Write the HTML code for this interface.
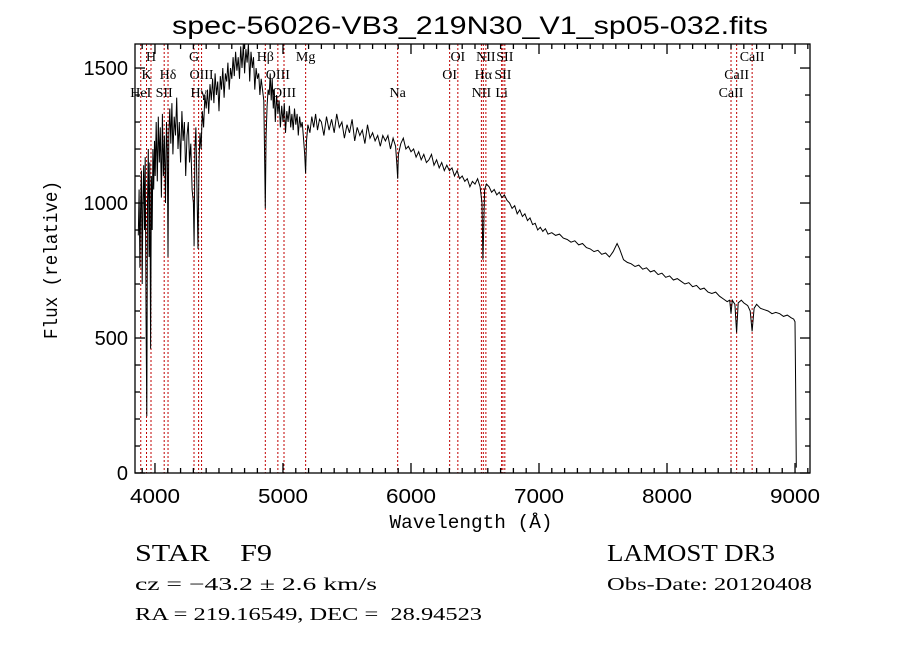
<!DOCTYPE html>
<html><head><meta charset="utf-8">
<style>
html,body{margin:0;padding:0;background:#fff;}
svg{display:block;}
text{white-space:pre;}
</style></head>
<body>
<svg id="chart" width="900" height="649" xmlns="http://www.w3.org/2000/svg" xml:space="preserve">
<rect x="0" y="0" width="900" height="649" fill="#fff"/>
<text x="470" y="34" text-anchor="middle" font-family="Liberation Sans, sans-serif" font-size="25" textLength="596" lengthAdjust="spacingAndGlyphs">spec-56026-VB3_219N30_V1_sp05-032.fits</text>
<g id="lines"></g>
<g id="labels" font-family="Liberation Serif, serif" font-size="14"></g>
<path id="spec" fill="none" stroke="#000" stroke-width="1"/>
<g id="axes" stroke="#000" stroke-width="1.3" fill="none"></g>
<g id="ticklabels" font-family="Liberation Sans, sans-serif" font-size="20"></g>
<text x="471" y="528" text-anchor="middle" font-family="Liberation Mono, monospace" font-size="19" textLength="163" lengthAdjust="spacingAndGlyphs">Wavelength (Å)</text>
<text transform="translate(57,260) rotate(-90)" text-anchor="middle" font-family="Liberation Mono, monospace" font-size="19" textLength="158" lengthAdjust="spacingAndGlyphs">Flux (relative)</text>
<text x="135" y="561" font-family="Liberation Serif, serif" font-size="24" textLength="137" lengthAdjust="spacingAndGlyphs">STAR    F9</text>
<text x="607" y="561" font-family="Liberation Serif, serif" font-size="24" textLength="168" lengthAdjust="spacingAndGlyphs">LAMOST DR3</text>
<text x="135" y="590" font-family="Liberation Serif, serif" font-size="18" textLength="242" lengthAdjust="spacingAndGlyphs">cz = −43.2 ± 2.6 km/s</text>
<text x="607" y="590" font-family="Liberation Serif, serif" font-size="18" textLength="205" lengthAdjust="spacingAndGlyphs">Obs-Date: 20120408</text>
<text x="135" y="620" font-family="Liberation Serif, serif" font-size="18" textLength="347" lengthAdjust="spacingAndGlyphs">RA = 219.16549, DEC =  28.94523</text>
</svg>
<script>
const wavelengths = [3870,3876,3882,3888,3894,3900,3906,3912,3918,3924,3930,3936,3942,3948,3954,3960,3966,3972,3978,3984,3990,3996,4002,4010,4018,4026,4034,4042,4050,4058,4066,4074,4082,4090,4096,4102,4108,4116,4124,4132,4140,4150,4160,4170,4180,4190,4200,4210,4220,4230,4240,4250,4260,4270,4280,4290,4300,4306,4312,4320,4330,4336,4344,4352,4360,4370,4380,4390,4400,4410,4420,4430,4440,4450,4460,4470,4480,4490,4500,4510,4520,4530,4540,4550,4560,4570,4580,4590,4600,4610,4620,4630,4640,4650,4660,4670,4680,4690,4700,4710,4720,4730,4740,4750,4760,4770,4780,4790,4800,4810,4820,4830,4840,4850,4856,4862,4868,4876,4884,4892,4900,4908,4916,4924,4932,4940,4950,4960,4970,4980,4990,5000,5010,5020,5030,5040,5050,5060,5070,5080,5090,5100,5110,5120,5130,5140,5150,5160,5170,5177,5184,5195,5210,5225,5240,5255,5270,5285,5300,5320,5340,5360,5380,5400,5420,5440,5460,5480,5500,5520,5540,5560,5580,5600,5620,5640,5660,5680,5700,5720,5740,5760,5780,5800,5820,5840,5860,5880,5890,5896,5902,5920,5940,5960,5980,6000,6020,6040,6060,6080,6100,6120,6140,6160,6180,6200,6220,6240,6260,6280,6300,6320,6340,6360,6380,6400,6420,6440,6460,6480,6500,6520,6540,6555,6562,6568,6575,6590,6610,6630,6650,6670,6690,6710,6730,6750,6770,6790,6810,6830,6850,6870,6890,6910,6930,6950,6970,6990,7010,7030,7050,7070,7100,7130,7160,7190,7220,7250,7280,7310,7340,7370,7400,7430,7460,7490,7520,7550,7580,7610,7630,7660,7690,7720,7750,7780,7810,7840,7870,7900,7930,7960,7990,8020,8050,8080,8110,8140,8170,8200,8230,8260,8290,8320,8350,8380,8410,8440,8470,8490,8500,8510,8530,8544,8556,8580,8600,8630,8650,8665,8680,8700,8730,8760,8790,8820,8850,8880,8910,8940,8970,8990,9000,9005,9010];
const fluxValues = [880,1050,760,980,1120,700,1000,1140,900,1170,600,210,1000,1200,800,1150,460,1100,900,1200,1050,1230,1100,1300,1080,1320,1150,1280,1020,1330,1100,1250,1000,1300,1200,800,1250,1350,1220,1370,1180,1320,1250,1390,1200,1300,1150,1340,1230,1300,1100,1250,1300,1150,1220,1050,1000,840,1200,1280,1000,830,1150,1260,1200,1340,1280,1400,1350,1420,1330,1440,1380,1460,1370,1480,1400,1450,1340,1470,1420,1500,1390,1480,1450,1520,1420,1500,1460,1540,1470,1560,1490,1540,1460,1580,1500,1590,1480,1570,1520,1600,1450,1560,1500,1540,1420,1500,1460,1480,1400,1460,1420,1380,1200,980,1250,1360,1420,1400,1480,1380,1460,1350,1420,1300,1400,1330,1380,1280,1360,1300,1370,1260,1340,1300,1360,1280,1330,1270,1350,1290,1330,1250,1320,1280,1300,1240,1180,1110,1230,1290,1260,1320,1280,1330,1270,1310,1300,1250,1320,1270,1310,1260,1330,1280,1300,1240,1290,1260,1310,1230,1280,1250,1270,1220,1290,1240,1260,1230,1250,1210,1250,1230,1250,1200,1240,1210,1140,1090,1180,1220,1240,1200,1210,1190,1200,1170,1190,1160,1180,1150,1160,1180,1140,1160,1130,1150,1120,1140,1120,1130,1100,1120,1090,1100,1080,1090,1060,1080,1070,1090,1060,1000,790,900,1050,1070,1060,1040,1050,1030,1040,1020,1030,1010,1000,980,990,960,975,950,960,935,945,920,925,900,910,895,905,885,890,880,885,870,865,855,860,845,850,835,830,820,825,810,815,800,820,850,830,790,780,775,765,770,755,760,745,750,735,740,725,730,715,720,710,700,705,690,695,680,685,670,665,670,655,645,635,640,590,640,625,520,630,640,630,620,600,525,610,625,610,605,600,590,595,590,580,585,575,570,560,300,20];
const lineNames = ["HeI","K","H","SII","Hδ","G","Hγ","OIII","Hβ","OIII","OIII","Mg","Na","OI","OI","NII","Hα","NII","Li","SII","SII","CaII","CaII","CaII"];
const lineWaves = [3889,3934,3969,4072,4102,4305,4341,4364,4862,4960,5008,5177,5896,6302,6366,6550,6565,6585,6708,6718,6733,8500,8544,8665];
const lineRows = [3,2,1,3,2,1,3,2,1,2,3,1,3,2,1,3,2,1,3,2,1,3,2,1];
const xTickValues = [4000,5000,6000,7000,8000,9000];
const yTickValues = [0,500,1000,1500];

const L=135,R=810,T=44,B=473;
const xMin=3844,xMax=9117,yMin=0,yMax=1589;
const X=w=>L+(w-xMin)/(xMax-xMin)*(R-L);
const Y=f=>B-(f-yMin)/(yMax-yMin)*(B-T);
const NS="http://www.w3.org/2000/svg";
function mk(tag,parent){const e=document.createElementNS(NS,tag);parent.appendChild(e);return e;}

let d="";
for(let i=0;i<wavelengths.length;i++){
  const x=X(wavelengths[i]).toFixed(1),y=Math.max(T,Math.min(B,Y(fluxValues[i]))).toFixed(1);
  d+=(i?"L":"M")+x+","+y;
}
document.getElementById("spec").setAttribute("d",d);

const lg=document.getElementById("lines"),lb=document.getElementById("labels");
const rowY={1:61,2:79,3:97};
for(let i=0;i<lineWaves.length;i++){
  const x=X(lineWaves[i]);
  const ln=mk("line",lg);
  
  
  ln.setAttribute("x1",x);ln.setAttribute("x2",x);ln.setAttribute("y1",T);ln.setAttribute("y2",B);
  ln.setAttribute("stroke","#c00000");ln.setAttribute("stroke-width","1");ln.setAttribute("stroke-dasharray","2,2");
  const t=mk("text",lb);
  
  
  t.setAttribute("x",x);t.setAttribute("y",rowY[lineRows[i]]);t.setAttribute("text-anchor","middle");
  t.textContent=lineNames[i];
}

const ax=document.getElementById("axes");
const box=mk("rect",ax);


box.setAttribute("x",L);box.setAttribute("y",T);box.setAttribute("width",R-L);box.setAttribute("height",B-T);
function tick(x1,y1,x2,y2){const l=mk("line",ax);
  
  
  l.setAttribute("x1",x1);l.setAttribute("y1",y1);l.setAttribute("x2",x2);l.setAttribute("y2",y2);}
for(let w=3900;w<=9100;w+=100){
  const x=X(w),len=(w%1000===0)?10:5;
  tick(x,B,x,B-len);tick(x,T,x,T+len);
}
for(let f=0;f<=1500;f+=100){
  const y=Y(f),len=(f%500===0)?10:5;
  tick(L,y,L+len,y);tick(R,y,R-len,y);
}
const tl=document.getElementById("ticklabels");
xTickValues.forEach(v=>{const t=mk("text",tl);
  
  
  t.setAttribute("x",X(v));t.setAttribute("y",503);t.setAttribute("text-anchor","middle");
  t.setAttribute("textLength",v>=1000?50:12);t.setAttribute("lengthAdjust","spacingAndGlyphs");t.textContent=v;});
yTickValues.forEach(v=>{const t=mk("text",tl);
  
  
  t.setAttribute("x",128);t.setAttribute("y",Y(v)+7);t.setAttribute("text-anchor","end");
  t.textContent=v;});
</script>
</body></html>
